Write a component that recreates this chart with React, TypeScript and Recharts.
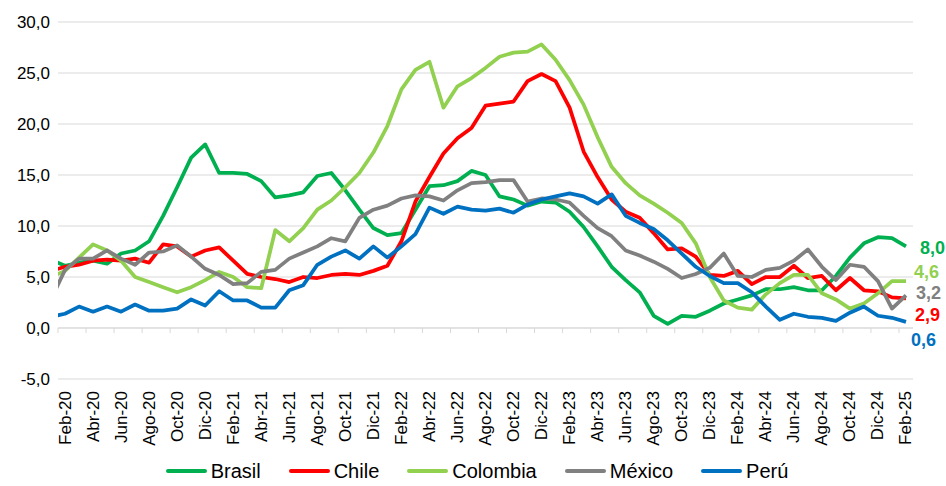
import { LineChart, Line, CartesianGrid, XAxis, YAxis, Legend, ReferenceLine } from 'recharts';

const months = [
  'Ene-20', 'Feb-20', 'Mar-20', 'Abr-20', 'May-20', 'Jun-20', 'Jul-20', 'Ago-20', 'Sep-20', 'Oct-20', 'Nov-20', 'Dic-20',
  'Ene-21', 'Feb-21', 'Mar-21', 'Abr-21', 'May-21', 'Jun-21', 'Jul-21', 'Ago-21', 'Sep-21', 'Oct-21', 'Nov-21', 'Dic-21',
  'Ene-22', 'Feb-22', 'Mar-22', 'Abr-22', 'May-22', 'Jun-22', 'Jul-22', 'Ago-22', 'Sep-22', 'Oct-22', 'Nov-22', 'Dic-22',
  'Ene-23', 'Feb-23', 'Mar-23', 'Abr-23', 'May-23', 'Jun-23', 'Jul-23', 'Ago-23', 'Sep-23', 'Oct-23', 'Nov-23', 'Dic-23',
  'Ene-24', 'Feb-24', 'Mar-24', 'Abr-24', 'May-24', 'Jun-24', 'Jul-24', 'Ago-24', 'Sep-24', 'Oct-24', 'Nov-24', 'Dic-24',
  'Ene-25', 'Feb-25',
];

const brasil = [
  6.7, 6.1, 6.4, 6.6, 6.3, 7.3, 7.6, 8.5, 11.0, 13.8, 16.7, 18.0,
  15.2, 15.2, 15.1, 14.4, 12.8, 13.0, 13.3, 14.9, 15.2, 13.5, 11.6, 9.8,
  9.1, 9.3, 11.6, 13.9, 14.0, 14.4, 15.4, 15.0, 12.9, 12.6, 12.0, 12.4,
  12.3, 11.4, 9.9, 8.0, 6.0, 4.7, 3.5, 1.2, 0.4, 1.2, 1.1, 1.7,
  2.4, 2.8, 3.2, 3.8, 3.8, 4.0, 3.7, 3.7, 5.1, 6.9, 8.3, 8.9,
  8.8, 8.0,
];

const chile = [
  5.6, 6.0, 6.2, 6.6, 6.7, 6.6, 6.8, 6.4, 8.2, 8.0, 7.0, 7.6,
  7.9, 6.6, 5.3, 5.0, 4.8, 4.5, 5.0, 4.9, 5.2, 5.3, 5.2, 5.6,
  6.1, 8.5, 12.4, 14.8, 17.1, 18.6, 19.6, 21.8, 22.0, 22.2, 24.2, 24.9,
  24.2, 21.6, 17.3, 14.8, 12.6, 11.4, 10.8, 9.3, 7.7, 7.8, 7.0, 5.2,
  5.1, 5.6, 4.3, 5.0, 5.0, 6.1, 4.9, 5.1, 3.7, 4.9, 3.7, 3.6,
  3.0, 2.9,
];

const colombia = [
  5.0, 5.6, 6.9, 8.2, 7.6, 6.6, 5.0, 4.5, 4.0, 3.5, 4.0, 4.7,
  5.5, 5.0, 4.0, 3.9, 9.6, 8.5, 9.8, 11.6, 12.5, 13.8, 15.2, 17.2,
  19.8, 23.4, 25.3, 26.1, 21.6, 23.7, 24.5, 25.5, 26.6, 27.0, 27.1, 27.8,
  26.3, 24.3, 21.9, 18.7, 15.8, 14.2, 13.0, 12.2, 11.3, 10.3, 8.3, 5.0,
  2.7, 2.0, 1.8, 3.3, 4.4, 5.2, 5.2, 3.4, 2.8, 1.9, 2.4, 3.4,
  4.6, 4.6,
];

const mexico = [
  2.8, 5.7, 6.8, 6.8, 7.6, 6.8, 6.2, 7.4, 7.5, 8.1, 7.0, 5.8,
  5.2, 4.3, 4.4, 5.5, 5.7, 6.8, 7.4, 8.0, 8.8, 8.5, 10.8, 11.6,
  12.0, 12.7, 13.0, 12.9, 12.5, 13.5, 14.2, 14.3, 14.5, 14.5, 12.4, 12.7,
  12.6, 12.3, 11.0, 9.8, 9.0, 7.6, 7.1, 6.5, 5.8, 4.9, 5.3, 5.9,
  7.3, 5.1, 5.0, 5.7, 5.9, 6.6, 7.7, 6.0, 4.7, 6.2, 6.0, 4.6,
  1.9, 3.2,
];

const peru = [
  1.1, 1.4, 2.1, 1.6, 2.1, 1.6, 2.3, 1.7, 1.7, 1.9, 2.8, 2.2,
  3.6, 2.7, 2.7, 2.0, 2.0, 3.7, 4.2, 6.2, 7.0, 7.6, 6.8, 8.0,
  6.9, 8.0, 9.2, 11.8, 11.2, 11.9, 11.6, 11.5, 11.7, 11.3, 12.1, 12.6,
  12.9, 13.2, 12.9, 12.2, 13.1, 11.0, 10.3, 9.7, 8.6, 7.3, 6.0, 5.1,
  4.4, 4.4, 3.5, 2.1, 0.8, 1.4, 1.1, 1.0, 0.7, 1.5, 2.1, 1.2,
  1.0, 0.6,
];

const yTicks = [-5, 0, 5, 10, 15, 20, 25, 30];

// dx/dy: offset of the end label from the last point
const series = [
  { key: 'brasil', name: 'Brasil', color: '#00B050', values: brasil, dx: 14, dy: 2 },
  { key: 'chile', name: 'Chile', color: '#FF0000', values: chile, dx: 9, dy: 17 },
  { key: 'colombia', name: 'Colombia', color: '#92D050', values: colombia, dx: 8, dy: -9 },
  { key: 'mexico', name: 'México', color: '#808080', values: mexico, dx: 10, dy: -2 },
  { key: 'peru', name: 'Perú', color: '#0070C0', values: peru, dx: 5, dy: 18 },
];

const data = months.map((month, i) => {
  const row: Record<string, number | string> = { idx: i - 1, month };
  series.forEach((s) => {
    row[s.key] = s.values[i];
  });
  return row;
});

const xTicks = data.map((d) => d.idx as number).filter((v) => v >= 0 && v % 2 === 0);
const boundaries = xTicks.map((v) => v - 0.5);
const lastIndex = data.length - 1;

const font = '"Liberation Sans", Arial, sans-serif';
const fmt = (v: number) => v.toFixed(1).replace('.', ',');

const XTick = ({ x, y, payload }: any) => {
  const ty = y + 4;
  return (
    <text
      x={x}
      y={ty}
      transform={`rotate(-90, ${x}, ${ty})`}
      textAnchor='end'
      dominantBaseline='central'
      fontSize={17}
      fontFamily={font}
      fill='#000'
    >
      {months[payload.value + 1]}
    </text>
  );
};

const YTick = ({ x, y, payload }: any) => (
  <text x={x} y={y} textAnchor='end' dominantBaseline='central' fontSize={17} fontFamily={font} fill='#000'>
    {fmt(payload.value)}
  </text>
);

const renderLegend = () => (
  <div
    style={{
      display: 'flex',
      justifyContent: 'center',
      alignItems: 'center',
      height: 30,
      paddingLeft: 8,
      fontFamily: font,
      fontSize: 20,
      color: '#000',
    }}
  >
    {series.map((s) => (
      <div key={s.key} style={{ display: 'flex', alignItems: 'center', margin: '0 14px' }}>
        <span style={{ width: 41, height: 4, background: s.color, marginRight: 4, borderRadius: 2 }} />
        <span>{s.name}</span>
      </div>
    ))}
  </div>
);

const endLabel = (s: (typeof series)[number]) => (props: any) => {
  if (props.index !== lastIndex) return null;
  return (
    <text
      x={props.x + s.dx}
      y={props.y + s.dy}
      textAnchor='start'
      dominantBaseline='central'
      fontSize={18}
      fontWeight='bold'
      fontFamily={font}
      fill={s.color}
    >
      {fmt(props.value)}
    </text>
  );
};

const App = () => {
  return (
    <div style={{ width: 946, height: 486 }}>
      <style>{'body{margin:0}'}</style>
      <LineChart width={946} height={486} data={data} margin={{ top: 22, right: 33, left: 0, bottom: 0 }}>
        <CartesianGrid vertical={false} stroke='#d9d9d9' />
        <XAxis
          dataKey='idx'
          type='number'
          domain={[-0.5, 60.5]}
          allowDataOverflow
          ticks={xTicks}
          interval={0}
          tick={<XTick />}
          axisLine={false}
          tickLine={false}
          height={77}
        />
        <YAxis
          type='number'
          domain={[-5, 30]}
          ticks={yTicks}
          interval={0}
          tick={<YTick />}
          axisLine={false}
          tickLine={false}
          width={58}
        />
        <ReferenceLine y={0} stroke='#d9d9d9' />
        {boundaries.map((b) => (
          <ReferenceLine
            key={b}
            segment={[
              { x: b, y: 0 },
              { x: b, y: -0.5 },
            ]}
            stroke='#d9d9d9'
          />
        ))}
        <Legend verticalAlign='bottom' content={renderLegend} wrapperStyle={{ left: 0, width: 946 }} />
        {series.map((s) => (
          <Line
            key={s.key}
            type='linear'
            dataKey={s.key}
            name={s.name}
            stroke={s.color}
            strokeWidth={3.75}
            strokeLinejoin='round'
            dot={false}
            activeDot={false}
            isAnimationActive={false}
            label={endLabel(s)}
          />
        ))}
      </LineChart>
    </div>
  );
};

export default App;
